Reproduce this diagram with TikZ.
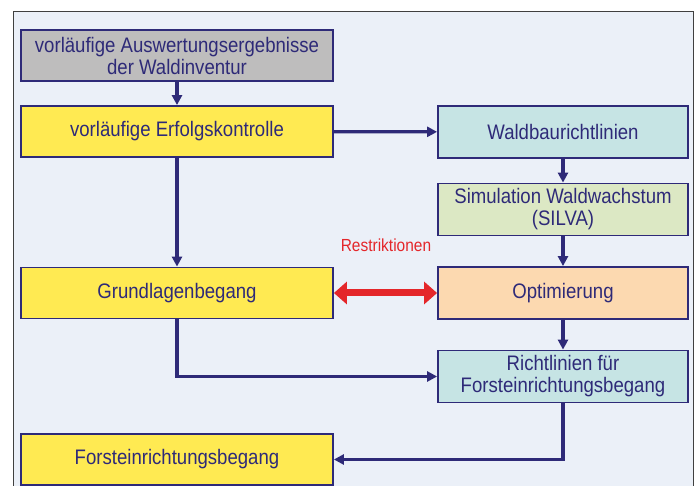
\documentclass[tikz,border=0pt]{standalone}
\usepackage{fontspec}
\setmainfont{Liberation Sans}[FakeStretch=0.885]
\usepackage{xcolor}
\usetikzlibrary{arrows.meta, positioning}

\definecolor{navy}{RGB}{46,42,120}
\definecolor{panel}{RGB}{235,240,248}
\definecolor{grey}{RGB}{190,189,189}
\definecolor{gelb}{RGB}{255,234,82}
\definecolor{tuerkis}{RGB}{198,228,228}
\definecolor{gruen}{RGB}{220,232,196}
\definecolor{pfirsich}{RGB}{252,217,176}
\definecolor{rot}{RGB}{228,38,42}

\tikzset{
  box/.style={draw=navy, line width=1.8pt, text=navy, align=center,
    font=\fontsize{21}{22}\selectfont, inner sep=0pt},
  wide/.style={box, minimum width=312pt, minimum height=51pt},
  narrow/.style={box, minimum width=250pt, minimum height=52pt},
  flow/.style={draw=navy, line width=3.3pt, -{Triangle[length=10pt, width=10pt]}},
  restr/.style={text=rot, font=\fontsize{17.5}{19}\selectfont}
}

\begin{document}
\begin{tikzpicture}[x=1pt, y=-1pt]
  \useasboundingbox (0,0) rectangle (697,486);
  \fill[panel] (13,11) rectangle (693,486);
  \draw[black!75, line width=0.8pt] (13,486) -- (13,11) -- (693,11) -- (693,486);

  \node[wide, fill=grey] (inv) at (177,55.5) {vorläufige Auswertungsergebnisse\\der Waldinventur};
  \node[wide, fill=gelb] (erf) at (177,131.5) {vorläufige Erfolgskontrolle};
  \node[wide, fill=gelb] (grund) at (177,293) {Grundlagenbegang};
  \node[wide, fill=gelb] (forst) at (177,459.5) {Forsteinrichtungsbegang};

  \node[narrow, fill=tuerkis] (wbr) at (563,132) {Waldbaurichtlinien};
  \node[narrow, fill=gruen] (sim) at (563,209.5) {Simulation Waldwachstum\\(SILVA)};
  \node[narrow, fill=pfirsich] (opt) at (563,293) {Optimierung};
  \node[narrow, fill=tuerkis] (richt) at (563,376.5) {Richtlinien für\\Forsteinrichtungsbegang};

  \draw[flow] (inv) -- (erf);
  \draw[flow] (erf) -- (wbr);
  \draw[flow] (erf) -- (grund);
  \draw[flow] (wbr) -- (sim);
  \draw[flow] (sim) -- (opt);
  \draw[flow] (opt) -- (richt);
  \draw[flow] (grund.south) |- (richt.west);
  \draw[flow] (richt.south) |- (forst.east);

  \draw[rot, line width=7pt, {Triangle[length=13pt, width=22pt]}-{Triangle[length=13pt, width=22pt]}]
    (grund) -- (opt);
  \node[restr] (lbl) at (386,245) {Restriktionen};
\end{tikzpicture}
\end{document}
